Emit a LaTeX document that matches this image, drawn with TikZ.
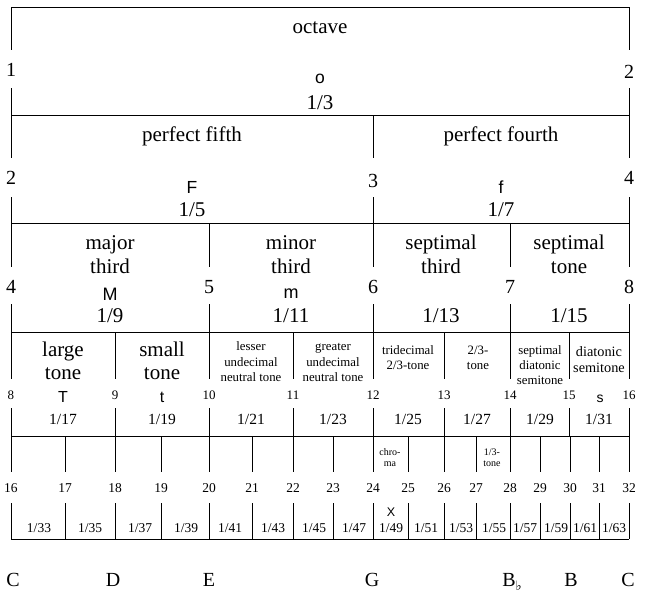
\documentclass[tikz,border=0pt]{standalone}
\usepackage{fontspec}
\setmainfont{Liberation Serif}
\newfontfamily\sansf{Liberation Sans}
\newfontfamily\symf{DejaVu Sans}
\begin{document}
\begin{tikzpicture}[x=1pt,y=-1pt,
  rule/.style={draw=black, line width=0.8pt},
  big/.style={inner sep=0pt, font=\fontsize{21}{25}\selectfont},
  bigw/.style={inner sep=0pt, text height=14.3pt, text depth=4.2pt, font=\fontsize{21}{25}\selectfont},
  edgenum/.style={inner sep=0pt, font=\fontsize{20}{24}\selectfont},
  letr/.style={inner sep=0pt, font=\sansf\fontsize{17.5}{20}\selectfont},
  letm/.style={inner sep=0pt, font=\sansf\fontsize{18}{20}\selectfont},
  lett/.style={inner sep=0pt, font=\sansf\fontsize{16}{18}\selectfont},
  lets/.style={inner sep=0pt, font=\sansf\fontsize{14}{16}\selectfont},
  letx/.style={inner sep=0pt, font=\sansf\fontsize{12.5}{14}\selectfont},
  small/.style={inner sep=0pt, text height=8.7pt, text depth=2.6pt, font=\fontsize{12.8}{15}\selectfont},
  smalld/.style={inner sep=0pt, text height=9.7pt, text depth=2.9pt, font=\fontsize{14.3}{16}\selectfont},
  tiny/.style={inner sep=0pt, text height=6.8pt, text depth=2pt, font=\fontsize{10}{12}\selectfont},
  num4/.style={inner sep=0pt, font=\fontsize{13}{15}\selectfont},
  frac4/.style={inner sep=0pt, font=\fontsize{15.5}{18}\selectfont},
  num5/.style={inner sep=0pt, font=\fontsize{13.5}{16}\selectfont},
  frac5/.style={inner sep=0pt, font=\fontsize{13.5}{16}\selectfont},
  note/.style={inner sep=0pt, text height=13.6pt, text depth=4pt, font=\fontsize{20}{24}\selectfont}
]
\fill[white] (0,0) rectangle (645,600);
\useasboundingbox (0,0) rectangle (645,600);

% horizontal rules
\foreach \y in {7,115,223,332,436,539} {\draw[rule] (11,\y) -- (629,\y);}

% vertical rules with gaps for the numbers
\foreach \x in {11,629} {\draw[rule] (\x,7) -- (\x,50) (\x,88) -- (\x,115);}
\foreach \x in {11,373,629} {\draw[rule] (\x,115) -- (\x,158) (\x,197) -- (\x,223);}
\foreach \x in {11,209,373,510,629} {\draw[rule] (\x,223) -- (\x,267) (\x,304) -- (\x,332);}
\foreach \x in {11,115,209,293,373,444,510,569,629} {\draw[rule] (\x,332) -- (\x,379) (\x,408) -- (\x,436);}
\foreach \x in {11,65,115,161,209,252,293,333,373,408,444,476,510,540,570,599,629}
  {\draw[rule] (\x,436) -- (\x,472) (\x,503) -- (\x,539);}

% row 1
\node[bigw] (oct) at (320,28) {octave};
\node[edgenum] (e1) at (11,70) {1};
\node[edgenum] (e2) at (629,72) {2};
\node[letr] (lo) at (320,79) {o};
\node[big] (f3) at (320,103) {1/3};

% row 2
\node[bigw] (pf5) at (192,136) {perfect fifth};
\node[bigw] (pf4) at (501,136) {perfect fourth};
\node[edgenum] (r2a) at (11,178) {2};
\node[edgenum] (r2b) at (373,181) {3};
\node[edgenum] (r2c) at (629,178) {4};
\node[letr] (lF) at (192,187) {F};
\node[letr] (lf) at (501,187) {f};
\node[big] (f5) at (192,210) {1/5};
\node[big] (f7) at (501,210) {1/7};

% row 3
\node[bigw] (maj1) at (110,244) {major};
\node[bigw] (maj2) at (110,268) {third};
\node[bigw] (min1) at (291,244) {minor};
\node[bigw] (min2) at (291,268) {third};
\node[bigw] (st1) at (441,244) {septimal};
\node[bigw] (st2) at (441,268) {third};
\node[bigw] (sn1) at (569,244) {septimal};
\node[bigw] (sn2) at (569,268) {tone};
\foreach \x/\d in {11/4,209/5,373/6,510/7,629/8} {\node[edgenum] (r3-\d) at (\x,287) {\d};}
\node[letm] (lM) at (110,294) {M};
\node[letm] (lm) at (291,294) {m};
\node[big] (f9) at (110,316) {1/9};
\node[big] (f11) at (291,316) {1/11};
\node[big] (f13) at (441,316) {1/13};
\node[big] (f15) at (569,316) {1/15};

% row 4
\node[bigw] (lt1) at (63,351) {large};
\node[bigw] (lt2) at (63,374) {tone};
\node[bigw] (sm1) at (162,351) {small};
\node[bigw] (sm2) at (162,374) {tone};
\node[small] (le1) at (251,347) {lesser};
\node[small] (le2) at (251,363) {undecimal};
\node[small] (le3) at (251,378) {neutral tone};
\node[small] (gr1) at (333,347) {greater};
\node[small] (gr2) at (333,363) {undecimal};
\node[small] (gr3) at (333,378) {neutral tone};
\node[small] (tr1) at (408,351) {tridecimal};
\node[small] (tr2) at (408,366) {2/3-tone};
\node[small] (tt1) at (478,351) {2/3-};
\node[small] (tt2) at (478,366) {tone};
\node[small] (sd1) at (540,351) {septimal};
\node[small] (sd2) at (540,366) {diatonic};
\node[small] (sd3) at (540,381) {semitone};
\node[smalld] (ds1) at (599,353) {diatonic};
\node[smalld] (ds2) at (599,369) {semitone};
\foreach \x/\d in {11/8,115/9,209/10,293/11,373/12,444/13,510/14,569/15,629/16}
  {\node[num4] (r4-\d) at (\x,395) {\d};}
\node[lett] (lT) at (63,397) {T};
\node[lett] (lt) at (162,397) {t};
\node[lets] (ls) at (600,399) {s};
\foreach \x/\d in {63/17,162/19,251/21,333/23,408/25,477/27,540/29,599/31}
  {\node[frac4] (f4-\d) at (\x,419) {1/\d};}

% row 5
\node[tiny] (ch1) at (390,453) {chro-};
\node[tiny] (ch2) at (390,464) {ma};
\node[tiny] (tn1) at (492,453) {1/3-};
\node[tiny] (tn2) at (492,464) {tone};
\foreach \x [count=\i from 16] in {11,65,115,161,209,252,293,333,373,408,444,476,510,540,570,599,629}
  {\node[num5] (r5-\i) at (\x,488) {\i};}
\node[letx] (lX) at (391,512) {X};
\foreach \x/\d in {39/33,90/35,140/37,186/39,230/41,273/43,314/45,354/47,391/49,426/51,461/53,494/55,525/57,556/59,585/61,614/63}
  {\node[frac5] (f5-\d) at (\x,528) {1/\d};}

% note names
\node[note] (nC1) at (13,582) {C};
\node[note] (nD) at (113,582) {D};
\node[note] (nE) at (209,582) {E};
\node[note] (nG) at (372,582) {G};
\node[note] (nBb) at (512,582) {B\raisebox{-4pt}{\symf\fontsize{13}{13}\selectfont ♭}};
\node[note] (nB) at (571,582) {B};
\node[note] (nC2) at (628,582) {C};
\end{tikzpicture}
\end{document}
